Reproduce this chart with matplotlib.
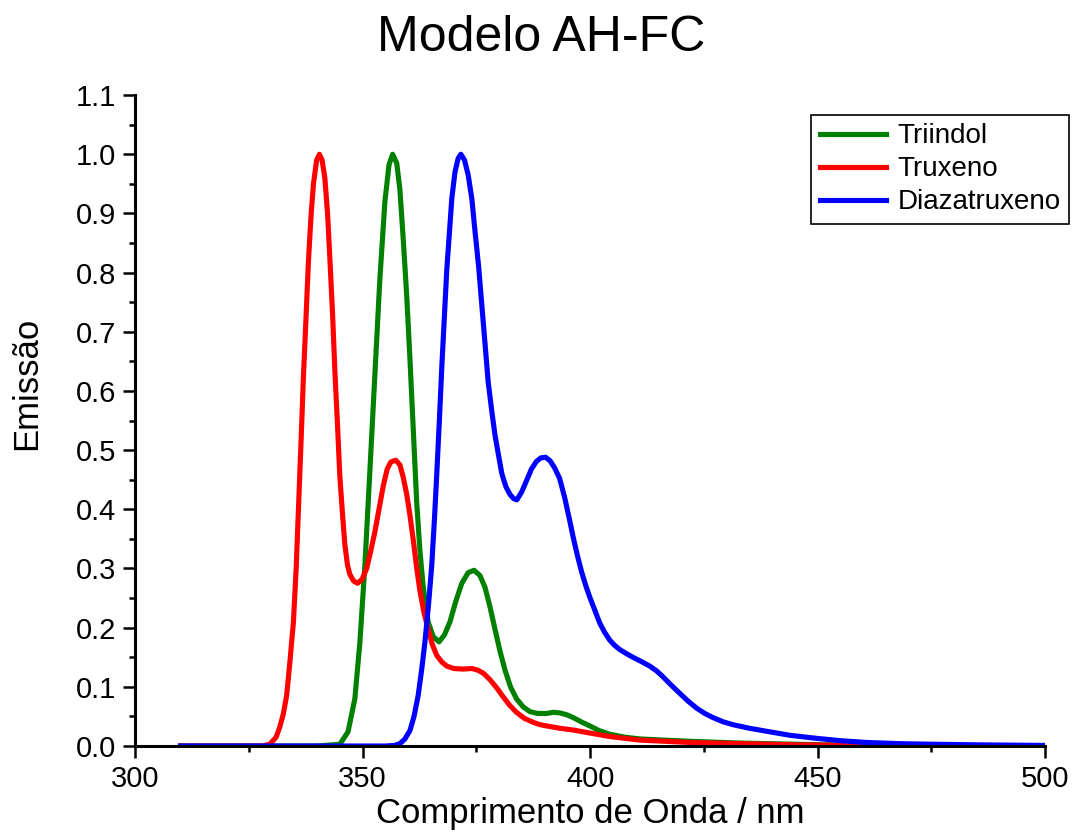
import matplotlib
matplotlib.use('Agg')
import matplotlib.pyplot as plt
from matplotlib.ticker import MultipleLocator, FormatStrFormatter

plt.rcParams['font.family'] = ['Liberation Sans', 'DejaVu Sans']

# Triindol (verde)
triindol_x = [310, 340, 345, 346.8, 348.3, 349.4, 350.5, 351.6, 352.7, 353.8, 354.9, 355.8,
              356.6, 357.5, 358.2, 358.9, 359.7, 360.4, 361.1, 361.9, 362.6, 363.3, 364.4,
              365.5, 366.8, 368.0, 369.2, 370.5, 371.8, 373.2, 374.5, 375.8, 376.9, 378.0,
              379.1, 380.2, 381.3, 382.5, 383.8, 385.3, 386.8, 388.5, 390.4, 392.0, 393.3,
              394.8, 396.3, 398.0, 399.9, 402.0, 404.3, 407.5, 410.9, 416, 421.9, 432.9,
              445, 460, 480, 500]
triindol_y = [0, 0, 0.003, 0.024, 0.08, 0.175, 0.305, 0.465, 0.628, 0.79, 0.92, 0.982,
              1.0, 0.985, 0.94, 0.86, 0.76, 0.655, 0.54, 0.41, 0.33, 0.27, 0.21,
              0.185, 0.176, 0.188, 0.21, 0.245, 0.275, 0.293, 0.297, 0.288, 0.268, 0.235,
              0.197, 0.16, 0.128, 0.1, 0.08, 0.066, 0.058, 0.055, 0.055, 0.057, 0.056,
              0.053, 0.048, 0.041, 0.034, 0.026, 0.02, 0.015, 0.012, 0.01, 0.008, 0.005,
              0.003, 0.001, 0.0005, 0.0]

# Truxeno (vermelho)
truxeno_x = [310, 328, 329.6, 331.0, 331.8, 332.6, 333.3, 334.0, 334.8, 335.4, 335.9, 336.5,
             337.0, 337.6, 338.1, 338.7, 339.2, 339.9, 340.5, 341.1, 341.7, 342.3, 342.8,
             343.4, 343.9, 344.5, 345.0, 345.6, 346.1, 346.7, 347.2, 348.0, 348.9, 349.9,
             350.9, 351.8, 352.7, 353.6, 354.5, 355.4, 356.2, 357.3, 358.2, 358.9, 359.7,
             360.4, 361.1, 361.9, 362.6, 363.5, 364.4, 365.3, 366.3, 367.4, 368.5, 370.0,
             372.1, 374.0, 375.4, 376.7, 378.0, 379.5, 380.9, 382.3, 383.8, 385.5, 387.5,
             389.0, 391.1, 393.3, 396.3, 399.9, 404.3, 410.9, 421.9, 432.9, 445, 460, 500]
truxeno_y = [0, 0, 0.003, 0.015, 0.032, 0.055, 0.085, 0.14, 0.21, 0.3, 0.4, 0.52,
             0.625, 0.73, 0.82, 0.9, 0.95, 0.99, 1.0, 0.99, 0.96, 0.9, 0.825,
             0.73, 0.635, 0.54, 0.455, 0.39, 0.34, 0.305, 0.29, 0.279, 0.275, 0.282,
             0.3, 0.33, 0.362, 0.4, 0.438, 0.468, 0.48, 0.483, 0.475, 0.455, 0.425,
             0.39, 0.35, 0.3, 0.262, 0.225, 0.198, 0.172, 0.153, 0.142, 0.135, 0.131,
             0.13, 0.131, 0.128, 0.122, 0.112, 0.098, 0.083, 0.069, 0.057, 0.047, 0.04,
             0.036, 0.033, 0.03, 0.027, 0.022, 0.016, 0.01, 0.006, 0.004, 0.002, 0.001, 0]

# Diazatruxeno (azul)
diaza_x = [310, 355, 357.0, 358.2, 359.3, 360.4, 361.3, 362.2, 363.0, 363.7, 364.5, 365.2,
           365.8, 366.3, 366.9, 367.4, 368.0, 368.5, 369.1, 369.6, 370.3, 371.0, 371.6,
           372.4, 373.2, 374.0, 374.7, 375.5, 376.2, 376.9, 377.6, 378.4, 379.1, 379.9,
           380.6, 381.5, 382.4, 383.2, 383.9, 385.0, 386.0, 387.1, 388.2, 389.2, 390.2,
           391.2, 392.2, 393.3, 394.4, 395.4, 396.3, 397.2, 398.1, 399.0, 399.9, 401.0,
           402.1, 403.2, 404.3, 405.4, 406.5, 408.0, 409.4, 411.2, 413.1, 414.6, 416.0,
           417.8, 419.7, 421.5, 423.4, 425.2, 427.0, 429.2, 431.4, 435.0, 438.7, 444,
           449.7, 455, 460.7, 468, 475.3, 485, 500]
diaza_y = [0, 0, 0.001, 0.004, 0.012, 0.026, 0.05, 0.085, 0.13, 0.176, 0.24, 0.306,
           0.385, 0.46, 0.555, 0.64, 0.73, 0.805, 0.87, 0.925, 0.97, 0.993, 1.0,
           0.99, 0.965, 0.925, 0.87, 0.81, 0.745, 0.68, 0.615, 0.565, 0.525, 0.49,
           0.46, 0.438, 0.425, 0.418, 0.416, 0.43, 0.448, 0.468, 0.481, 0.487, 0.488,
           0.482, 0.47, 0.452, 0.42, 0.385, 0.352, 0.322, 0.295, 0.272, 0.252, 0.23,
           0.208, 0.192, 0.179, 0.17, 0.163, 0.156, 0.15, 0.143, 0.135, 0.127, 0.117,
           0.103, 0.089, 0.076, 0.064, 0.055, 0.048, 0.041, 0.036, 0.03, 0.025, 0.018,
           0.013, 0.009, 0.006, 0.004, 0.003, 0.002, 0.001]

fig = plt.figure(figsize=(10.72, 8.34), dpi=100)
ax = fig.add_axes([0.126, 0.1055, 0.849, 0.7805])

ax.plot(triindol_x, triindol_y, color='#008000', lw=3.7, label='Triindol', solid_joinstyle='round')
ax.plot(truxeno_x, truxeno_y, color='#ff0000', lw=3.7, label='Truxeno', solid_joinstyle='round')
ax.plot(diaza_x, diaza_y, color='#0000ff', lw=3.7, label='Diazatruxeno', solid_joinstyle='round')

ax.set_xlim(300, 500)
ax.set_ylim(0, 1.1)
ax.xaxis.set_major_locator(MultipleLocator(50))
ax.xaxis.set_minor_locator(MultipleLocator(25))
ax.yaxis.set_major_locator(MultipleLocator(0.1))
ax.yaxis.set_minor_locator(MultipleLocator(0.05))
ax.yaxis.set_major_formatter(FormatStrFormatter('%.1f'))

for s in ['top', 'right']:
    ax.spines[s].set_visible(False)
for s in ['left', 'bottom']:
    ax.spines[s].set_linewidth(2.2)

ax.tick_params(which='major', direction='out', length=8.5, width=1.8, labelsize=21, pad=5)
ax.tick_params(which='minor', direction='out', length=4.5, width=1.8)

fig.text(541 / 1072, 1 - 38 / 834, 'Modelo AH-FC', fontsize=36, ha='center', va='center')
ax.set_xlabel('Comprimento de Onda / nm', fontsize=25, labelpad=3)
fig.text(27 / 1072, 1 - 383 / 834, 'Emissão', fontsize=25, rotation=90, ha='center', va='center')

leg = ax.legend(loc='upper right', bbox_to_anchor=(0.997, 0.862), bbox_transform=fig.transFigure,
                fontsize=20, frameon=True, fancybox=False, edgecolor='black', framealpha=1,
                handlelength=2.4, labelspacing=0.25, borderaxespad=0, borderpad=0.3,
                handletextpad=0.4)
leg.get_frame().set_linewidth(1.2)

plt.savefig('out.png', dpi=100)
